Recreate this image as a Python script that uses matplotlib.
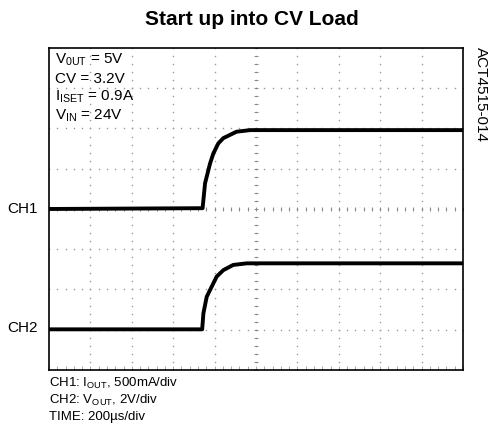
import matplotlib
matplotlib.use("Agg")
import matplotlib.pyplot as plt
import numpy as np

plt.rcParams['font.family'] = ['Liberation Sans', 'DejaVu Sans']
plt.rcParams['mathtext.fontset'] = 'custom'
plt.rcParams['mathtext.rm'] = 'Liberation Sans'

# waveform points (x, y in divisions)
ch1_t = [0.0, 3.71, 3.77, 3.89, 3.97, 4.09, 4.21, 4.37, 4.53, 4.86, 10.0]
ch1_v = [4.0, 4.02, 4.64, 5.13, 5.38, 5.63, 5.76, 5.84, 5.92, 5.96, 5.96]
ch2_t = [0.0, 3.70, 3.73, 3.81, 3.93, 4.05, 4.21, 4.45, 4.78, 10.0]
ch2_v = [1.01, 1.01, 1.41, 1.82, 2.07, 2.32, 2.48, 2.61, 2.65, 2.65]

x_divs = 10
y_divs = 8
settings = [r'V$_{\mathrm{0UT}}$ = 5V', 'CV = 3.2V',
            r'I$_{\mathrm{ISET}}$ = 0.9A', r'V$_{\mathrm{IN}}$ = 24V']
scales = [r'CH1: I$_{\mathrm{OUT}}$, 500mA/div',
          r'CH2: V$_{\mathrm{OUT}}$, 2V/div', 'TIME: 200µs/div']

fig = plt.figure(figsize=(4.89, 4.34), dpi=100)
ax = fig.add_axes([0.1002, 0.1475, 0.8466, 0.7419])
ax.set_xlim(0, x_divs)
ax.set_ylim(0, y_divs)
ax.set_xticks([])
ax.set_yticks([])
for s in ax.spines.values():
    s.set_linewidth(1.2)

# dotted graticule
minor = np.arange(0, x_divs + 0.01, 0.2)
minor_y = np.arange(0, y_divs + 0.01, 0.2)
for gx in range(1, x_divs):
    ax.plot(np.full(len(minor_y), gx), minor_y, ls='none', marker='s',
            ms=1.0, mew=0, color='#999999')
for gy in range(1, y_divs):
    ax.plot(minor, np.full(len(minor), gy), ls='none', marker='s',
            ms=1.0, mew=0, color='#999999')
# centre cross with tick marks
ax.plot(np.full(len(minor_y), 5), minor_y, ls='none', marker='_',
        ms=3.5, mew=0.7, color='#888888')
ax.plot(minor, np.full(len(minor), 4), ls='none', marker='|',
        ms=3.5, mew=0.7, color='#888888')
ax.plot(minor, np.full(len(minor), 0.04), ls='none', marker='|',
        ms=2.5, mew=0.6, color='#999999')

ax.plot(ch1_t, ch1_v, color='black', lw=2.8, solid_joinstyle='round')
ax.plot(ch2_t, ch2_v, color='black', lw=2.8, solid_joinstyle='round')

for i, txt in enumerate(settings):
    ax.text(0.14, 7.7 - i * 0.46, txt, fontsize=11, va='center', ha='left')

ax.text(-0.27, 4.0, 'CH1', fontsize=11, ha='right', va='center')
ax.text(-0.27, 1.05, 'CH2', fontsize=11, ha='right', va='center')

fig.text(0.516, 0.956, 'Start up into CV Load', fontsize=15,
         fontweight='bold', ha='center', va='center')
fig.text(0.9836, 0.892, 'ACT4515-014', fontsize=11, rotation=-90,
         ha='center', va='top')
for i, txt in enumerate(scales):
    fig.text(0.1002, 0.116 - i * 0.038, txt, fontsize=9.5,
             ha='left', va='center')

fig.savefig('out.png', dpi=100)
